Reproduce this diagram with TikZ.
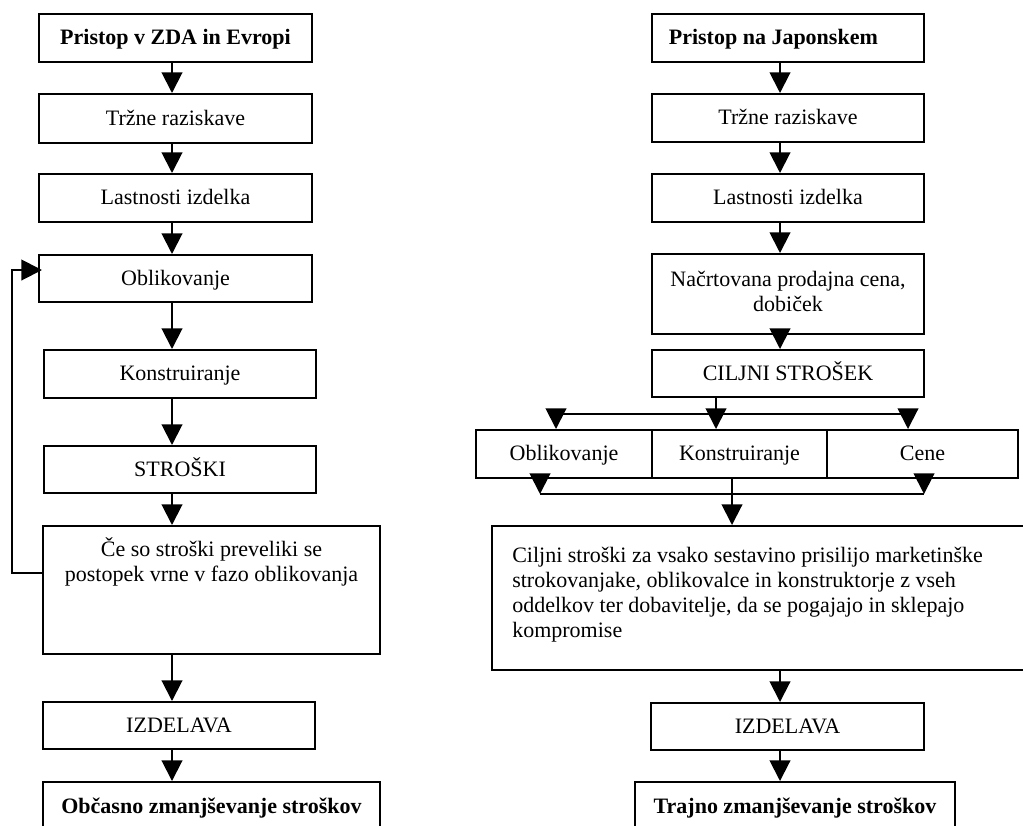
\documentclass[tikz,border=0pt]{standalone}
\usepackage{fontspec}
\setmainfont{Liberation Serif}
\usetikzlibrary{arrows.meta}
\begin{document}
\begin{tikzpicture}[x=0.75pt,y=-0.75pt,
  txt/.style={font=\fontsize{16.5}{18.75}\selectfont},
  boldtxt/.style={font=\fontsize{16.5}{18.75}\selectfont\bfseries},
  box/.style={draw, line width=1.5pt, rectangle, inner sep=0pt, txt},
  oneline/.style={text height=13pt, text depth=3pt},
  conn/.style={line width=1.5pt},
  arr/.style={conn, -{Triangle[length=15.5pt,width=15.5pt]}},
]
\useasboundingbox (0,0) rectangle (1023,825);
\fill[white] (0,0) rectangle (1023,825);
\clip (0,0) rectangle (1023,825);

% ---------------- left column: USA and Europe ----------------
\node[box, oneline, boldtxt, minimum width=204.75pt, minimum height=36pt] (l1) at (175.5,38) {Pristop v ZDA in Evropi};
\node[box, oneline, minimum width=204.75pt, minimum height=36.75pt] (l2) at (175.5,118.5) {Tržne raziskave};
\node[box, oneline, minimum width=204.75pt, minimum height=36pt] (l3) at (175.5,198) {Lastnosti izdelka};
\node[box, oneline, minimum width=204.75pt, minimum height=35.25pt] (l4) at (175.5,278.5) {Oblikovanje};
\node[box, oneline, minimum width=204pt, minimum height=36pt] (l5) at (180,374) {Konstruiranje};
\node[box, oneline, minimum width=204pt, minimum height=35.25pt] (l6) at (180,469.5) {STROŠKI};
\node[box, minimum width=252.75pt, minimum height=96pt] (l7) at (211.5,590) {};
\node[txt, align=center, inner sep=0pt] (l7t) at (211.5,562) {Če so stroški preveliki se\\postopek vrne v fazo oblikovanja};
\node[box, oneline, minimum width=204pt, minimum height=35.25pt] (l8) at (179,725.5) {IZDELAVA};
\node[box, oneline, boldtxt, minimum width=252.75pt, minimum height=37.5pt] (l9) at (211.5,807) {Občasno zmanjševanje stroškov};

\coordinate (lx) at (172,0);
\draw[arr] (l1.south -| lx) -- (l2.north -| lx);
\draw[arr] (l2.south -| lx) -- (l3.north -| lx);
\draw[arr] (l3.south -| lx) -- (l4.north -| lx);
\draw[arr] (l4.south -| lx) -- (l5.north -| lx);
\draw[arr] (l5.south -| lx) -- (l6.north -| lx);
\draw[arr] (l6.south -| lx) -- (l7.north -| lx);
\draw[arr] (l7.south -| lx) -- (l8.north -| lx);
\draw[arr] (l8.south -| lx) -- (l9.north -| lx);

% feedback loop back to the design phase
\coordinate (fb1) at (12,573);
\coordinate (fb2) at (12,270);
\coordinate (fb3) at (42,270);
\draw[arr] (l7.west |- fb1) -- (fb1) -- (fb2) -- (fb3);

% ---------------- right column: Japan ----------------
\node[box, oneline, boldtxt, minimum width=204pt, minimum height=36pt] (r1) at (788,38) {Pristop na Japonskem\hbox to 22pt{}};
\node[box, oneline, minimum width=204pt, minimum height=36pt] (r2) at (788,118) {Tržne raziskave};
\node[box, oneline, minimum width=204pt, minimum height=36pt] (r3) at (788,198) {Lastnosti izdelka};
\node[box, minimum width=204pt, minimum height=60pt] (r4) at (788,294) {};
\node[txt, align=center, inner sep=0pt] (r4t) at (788,291) {Načrtovana prodajna cena,\\dobiček};
\node[box, oneline, minimum width=204pt, minimum height=35.25pt] (r5) at (788,373.5) {CILJNI STROŠEK};
\node[box, oneline, minimum width=132pt, minimum height=36pt] (ra) at (564,454) {Oblikovanje};
\node[box, oneline, minimum width=131.25pt, minimum height=36pt] (rb) at (739.5,454) {Konstruiranje};
\node[box, oneline, minimum width=143.25pt, minimum height=36pt] (rc) at (922.5,454) {Cene};
\node[box, minimum width=407.25pt, minimum height=108pt] (r6) at (763.5,598) {};
\node[txt, align=left, anchor=west, inner sep=0pt] (r6t) at (512,595) {Ciljni stroški za vsako sestavino prisilijo marketinške\\strokovanjake, oblikovalce in konstruktorje z vseh\\oddelkov ter dobavitelje, da se pogajajo in sklepajo\\kompromise};
\node[box, oneline, minimum width=204.75pt, minimum height=35.25pt] (r7) at (787.5,726.5) {IZDELAVA};
\node[box, oneline, boldtxt, minimum width=240pt, minimum height=37.5pt] (r8) at (795,807) {Trajno zmanjševanje stroškov};

\coordinate (rx) at (780,0);
\draw[arr] (r1.south -| rx) -- (r2.north -| rx);
\draw[arr] (r2.south -| rx) -- (r3.north -| rx);
\draw[arr] (r3.south -| rx) -- (r4.north -| rx);
\draw[arr] (r4.south -| rx) -- (r5.north -| rx);
\draw[arr] (r6.south -| rx) -- (r7.north -| rx);
\draw[arr] (r7.south -| rx) -- (r8.north -| rx);

% target cost split into the three departments
\coordinate (sa) at (556,414);
\coordinate (sb) at (716,414);
\coordinate (sc) at (908,414);
\draw[conn] (r5.south -| sb) -- (sb);
\draw[conn] (sa) -- (sc);
\draw[arr] (sa) -- (ra.north -| sa);
\draw[arr] (sb) -- (rb.north -| sb);
\draw[arr] (sc) -- (rc.north -| sc);

% departments merge into the negotiation box
\coordinate (ma) at (540,494);
\coordinate (mb) at (732,494);
\coordinate (mc) at (924,494);
\draw[arr] (ra.south -| ma) -- (ma);
\draw[arr] (rc.south -| mc) -- (mc);
\draw[conn] (ma) -- (mc);
\draw[arr] (rb.south -| mb) -- (r6.north -| mb);
\end{tikzpicture}
\end{document}
